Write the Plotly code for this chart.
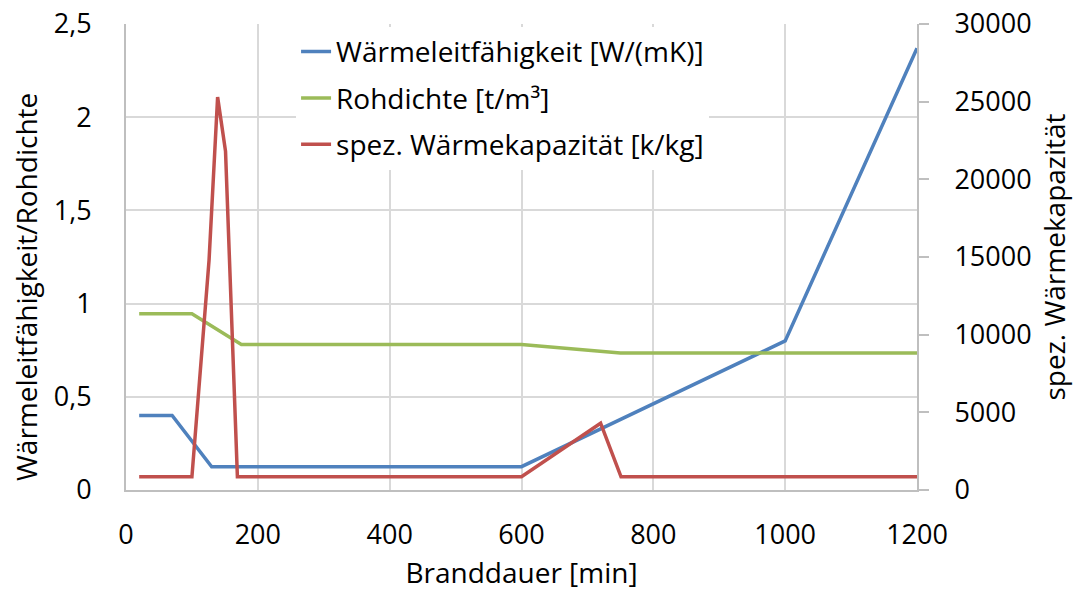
import plotly.graph_objects as go

# Branddauer in Minuten und Stoffwerte
zeit_lambda = [20, 70, 130, 600, 1000, 1200]
waermeleitfaehigkeit = [0.4, 0.4, 0.125, 0.125, 0.8, 2.37]

zeit_rho = [20, 100, 175, 600, 750, 1200]
rohdichte = [0.945, 0.945, 0.78, 0.78, 0.735, 0.735]

zeit_cp = [20, 100, 126, 139, 151, 169, 600, 720, 751, 1200]
waermekapazitaet = [850, 850, 14800, 25300, 21800, 850, 850, 4300, 850, 850]

FONT = "Open Sans"
GRID = "#d9d9d9"
AXIS = "#bfbfbf"
TICK_FONT = dict(family=FONT, size=27, color="#000000")
TITLE_FONT = dict(family=FONT, size=28, color="#000000")

fig = go.Figure()
fig.add_trace(go.Scatter(
    x=zeit_lambda, y=waermeleitfaehigkeit, mode="lines",
    name="Wärmeleitfähigkeit [W/(mK)]", legendgroup="a",
    line=dict(color="#4f81bd", width=3.5),
))
fig.add_trace(go.Scatter(
    x=zeit_rho, y=rohdichte, mode="lines",
    name="Rohdichte [t/m³]", legendgroup="b",
    line=dict(color="#9bbb59", width=3.5),
))
fig.add_trace(go.Scatter(
    x=zeit_cp, y=waermekapazitaet, mode="lines", yaxis="y2",
    name="spez. Wärmekapazität [k/kg]", legendgroup="c",
    line=dict(color="#c0504d", width=3.5),
))

# left axis title, set slightly below the plot centre
fig.add_annotation(
    text="Wärmeleitfähigkeit/Rohdichte", textangle=-90,
    xref="paper", yref="paper", x=-0.1264, y=0.4356,
    xanchor="center", yanchor="middle", showarrow=False,
    font=TITLE_FONT,
)

fig.update_layout(
    width=1077, height=598,
    margin=dict(l=126, r=160, t=24, b=108),
    paper_bgcolor="white", plot_bgcolor="white",
    separators=", ",
    font=dict(family=FONT, size=24, color="#000000"),
    showlegend=True,
    legend=dict(
        x=0.215, y=0.994, xanchor="left", yanchor="top",
        bgcolor="white", font=dict(family=FONT, size=28, color="#000000"),
        tracegroupgap=7,
    ),
    xaxis=dict(
        range=[0, 1200], tickvals=[0, 200, 400, 600, 800, 1000, 1200],
        showgrid=True, gridcolor=GRID, gridwidth=2,
        showline=True, linecolor=AXIS, linewidth=2,
        zeroline=False, ticks="", ticklabelstandoff=20,
        tickfont=TICK_FONT, automargin=False,
        title=dict(text="Branddauer [min]", standoff=12, font=TITLE_FONT),
    ),
    yaxis=dict(
        range=[0, 2.5], tickvals=[0, 0.5, 1, 1.5, 2, 2.5],
        showgrid=True, gridcolor=GRID, gridwidth=2,
        showline=True, linecolor=AXIS, linewidth=2,
        zeroline=False, ticks="", ticklabelstandoff=27,
        tickfont=TICK_FONT, automargin=False,
    ),
    yaxis2=dict(
        range=[0, 30000], tickvals=[0, 5000, 10000, 15000, 20000, 25000, 30000],
        tickformat="d", overlaying="y", side="right",
        showgrid=False, showline=True, linecolor=AXIS, linewidth=2,
        zeroline=False, ticks="outside", ticklen=10, tickwidth=2, tickcolor=AXIS,
        ticklabelstandoff=20,
        tickfont=TICK_FONT, automargin=False,
        title=dict(text="spez. Wärmekapazität", standoff=15, font=TITLE_FONT),
    ),
)

fig.write_html("out.html")
